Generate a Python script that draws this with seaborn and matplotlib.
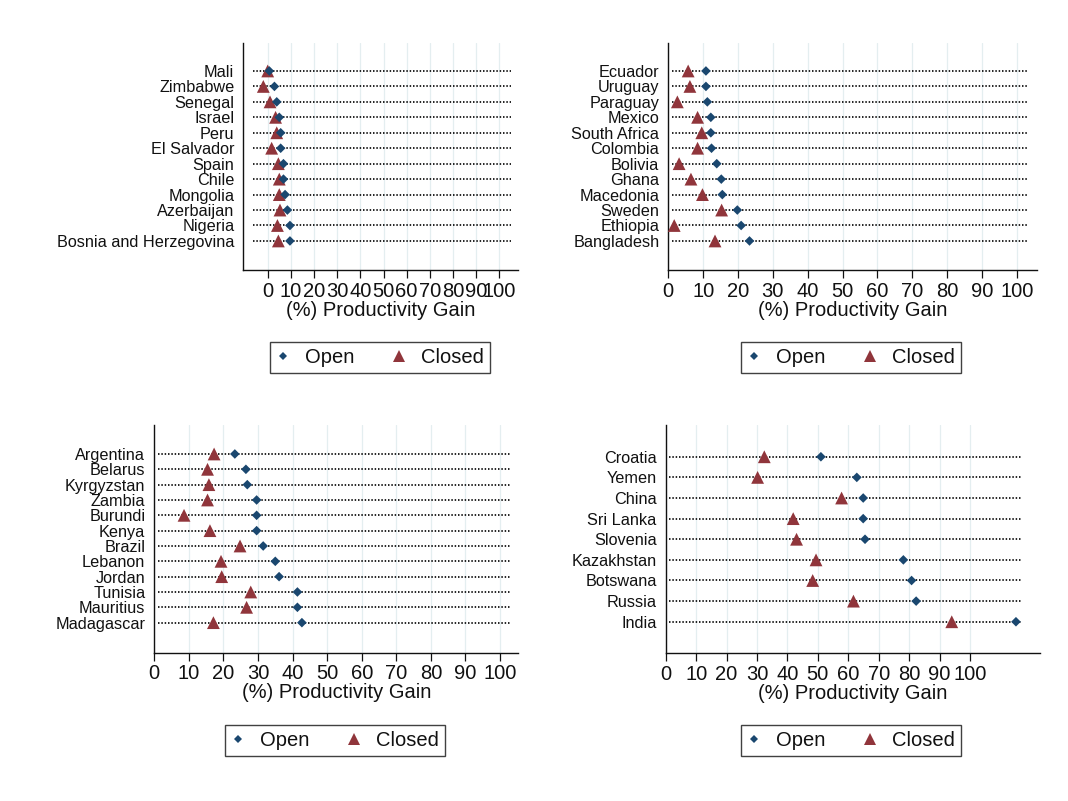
import numpy as np
import pandas as pd
import matplotlib
matplotlib.use("Agg")
import matplotlib.pyplot as plt
from matplotlib.lines import Line2D
import seaborn as sns

sns.set_style("white")
plt.rcParams['font.family'] = ['Liberation Sans', 'DejaVu Sans']

# ---------------- data ----------------
countries_1 = ["Mali", "Zimbabwe", "Senegal", "Israel", "Peru", "El Salvador", "Spain",
               "Chile", "Mongolia", "Azerbaijan", "Nigeria", "Bosnia and Herzegovina"]
open_1 = [0.7, 2.9, 3.9, 5.0, 5.6, 5.6, 6.8, 6.8, 7.5, 8.5, 9.6, 9.6]
closed_1 = [0.0, -1.9, 1.0, 3.4, 3.9, 1.7, 4.6, 5.0, 5.0, 5.3, 4.2, 4.6]

countries_2 = ["Ecuador", "Uruguay", "Paraguay", "Mexico", "South Africa", "Colombia",
               "Bolivia", "Ghana", "Macedonia", "Sweden", "Ethiopia", "Bangladesh"]
open_2 = [10.8, 10.8, 11.2, 12.2, 12.2, 12.4, 13.9, 15.2, 15.5, 19.8, 20.9, 23.3]
closed_2 = [5.7, 6.2, 2.6, 8.4, 9.6, 8.4, 3.1, 6.5, 9.8, 15.3, 1.7, 13.4]

countries_3 = ["Argentina", "Belarus", "Kyrgyzstan", "Zambia", "Burundi", "Kenya",
               "Brazil", "Lebanon", "Jordan", "Tunisia", "Mauritius", "Madagascar"]
open_3 = [23.3, 26.5, 26.9, 29.6, 29.6, 29.6, 31.5, 35.0, 36.1, 41.4, 41.4, 42.7]
closed_3 = [17.3, 15.4, 15.8, 15.4, 8.6, 16.1, 24.8, 19.3, 19.5, 27.9, 26.7, 17.1]

countries_4 = ["Croatia", "Yemen", "China", "Sri Lanka", "Slovenia", "Kazakhstan",
               "Botswana", "Russia", "India"]
open_4 = [51.0, 62.8, 64.9, 64.9, 65.5, 78.1, 80.8, 82.3, 115.1]
closed_4 = [32.4, 30.2, 57.8, 41.9, 43.0, 49.4, 48.3, 61.7, 94.0]

x_ticks = list(range(0, 101, 10))
x_label = "(%) Productivity Gain"
series_names = ["Open", "Closed"]

NAVY = "#1a476f"
MAROON = "#90353b"

W, H = 1068, 801
fig = plt.figure(figsize=(W / 100, H / 100), dpi=100)
fig.patch.set_facecolor("white")

# panel layout in pixels: left, right, top, bottom ; xlim ; ylim ; dotted line extent ; legend center
panels = [
    dict(c=countries_1, o=open_1, cl=closed_1, box=(243.3, 518.3, 43.3, 270.0),
         xlim=(-10.54, 108.2), ylim=(12.88, -1.79), dots=(0.036, 0.972), leg=(380, 357.5)),
    dict(c=countries_2, o=open_2, cl=closed_2, box=(668.3, 1036.7, 43.3, 270.0),
         xlim=(0, 105.7), ylim=(12.88, -1.79), dots=(0.009, 0.977), leg=(851, 357.5)),
    dict(c=countries_3, o=open_3, cl=closed_3, box=(154.3, 518.3, 425.0, 652.7),
         xlim=(0, 105.3), ylim=(12.96, -1.89), dots=(0.009, 0.977), leg=(335, 740.5)),
    dict(c=countries_4, o=open_4, cl=closed_4, box=(665.7, 1040.0, 425.0, 653.3),
         xlim=(0, 123.0), ylim=(9.53, -1.54), dots=(0.0096, 0.95), leg=(851, 740.5)),
]

for p in panels:
    l, r, t, b = p["box"]
    ax = fig.add_axes([l / W, 1 - b / H, (r - l) / W, (b - t) / H])
    df = pd.DataFrame({
        "country": list(p["c"]) * 2,
        "value": list(p["cl"]) + list(p["o"]),
        "type": ["Closed"] * len(p["c"]) + ["Open"] * len(p["c"]),
    })
    # dotted guide lines per category
    for i in range(len(p["c"])):
        ax.axhline(i, xmin=p["dots"][0], xmax=p["dots"][1], color="#000000",
                   lw=1.2, ls=(0, (0.9, 1.1)), zorder=1)
    sns.scatterplot(data=df, x="value", y="country", hue="type", style="type",
                    hue_order=series_names, style_order=series_names,
                    markers={"Open": "D", "Closed": "^"},
                    palette={"Open": NAVY, "Closed": MAROON},
                    size="type", sizes={"Open": 24, "Closed": 85},
                    linewidth=0, legend=False, ax=ax, zorder=3)
    ax.set_xlim(*p["xlim"])
    ax.set_ylim(*p["ylim"])
    ax.set_xticks(x_ticks)
    ax.set_xticklabels([str(v) for v in x_ticks])
    ax.grid(axis="x", color="#e4eef0", lw=0.9, zorder=0)
    ax.grid(axis="y", visible=False)
    ax.set_axisbelow(True)
    for s in ["top", "right"]:
        ax.spines[s].set_visible(False)
    for s in ["left", "bottom"]:
        ax.spines[s].set_color("#111111")
        ax.spines[s].set_linewidth(1.0)
    ax.tick_params(axis="x", direction="out", length=5.8, width=0.9, color="#111111",
                   labelsize=14.5, pad=2.5, bottom=True, labelcolor="#111111")
    ax.tick_params(axis="y", length=0, labelsize=11.7, pad=6.5, labelcolor="#111111")
    ax.set_xlabel(x_label, fontsize=14.5, labelpad=0, color="#111111")
    ax.set_ylabel("")

    handles = [
        Line2D([], [], marker="D", color=NAVY, ls="", markersize=3.6, markeredgewidth=0),
        Line2D([], [], marker="^", color=MAROON, ls="", markersize=8, markeredgewidth=0),
    ]
    lx, ly = p["leg"]
    leg = ax.legend(handles, series_names, loc="center", bbox_to_anchor=(lx / W, 1 - ly / H),
                    bbox_transform=fig.transFigure, ncol=2, frameon=True, fancybox=False,
                    fontsize=14.5, borderpad=0.3, handlelength=0.7, handletextpad=0.75,
                    columnspacing=1.85, borderaxespad=0)
    leg.get_frame().set_edgecolor("#111111")
    leg.get_frame().set_linewidth(1.0)
    for txt in leg.get_texts():
        txt.set_color("#111111")

fig.savefig("out.png", dpi=100, facecolor="white")
